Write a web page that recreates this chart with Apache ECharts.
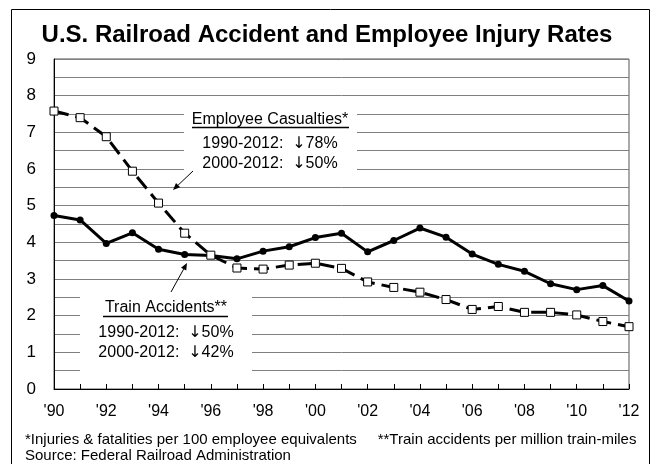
<!DOCTYPE html>
<html>
<head>
<meta charset="utf-8">
<script src="https://cdn.jsdelivr.net/npm/echarts@6/dist/echarts.min.js"></script>
<style>
  html, body { margin: 0; padding: 0; background: #fff; }
  #chart { width: 654px; height: 464px; }
</style>
</head>
<body>
<div id="chart"></div>
<script>
// year labels, 1990-2012
const years = ["'90", "'91", "'92", "'93", "'94", "'95", "'96", "'97", "'98", "'99", "'00", "'01",
  "'02", "'03", "'04", "'05", "'06", "'07", "'08", "'09", "'10", "'11", "'12"];
// injuries & fatalities per 100 employee equivalents
const employeeCasualties = [7.58, 7.40, 6.88, 5.94, 5.07, 4.25, 3.65, 3.30, 3.27, 3.38, 3.43, 3.29,
  2.92, 2.77, 2.64, 2.44, 2.17, 2.25, 2.09, 2.09, 2.02, 1.84, 1.70];
// train accidents per million train-miles
const trainAccidents = [4.73, 4.61, 3.97, 4.26, 3.81, 3.67, 3.64, 3.55, 3.76, 3.88, 4.13, 4.25,
  3.74, 4.05, 4.39, 4.14, 3.68, 3.40, 3.21, 2.87, 2.71, 2.82, 2.40];

const font = "Liberation Sans, Arial, sans-serif";
const chart = echarts.init(document.getElementById("chart"));

function arrow(x1, y1, x2, y2) {
  // thin line with a small filled head at (x2, y2)
  const a = Math.atan2(y2 - y1, x2 - x1);
  const len = 7, w = 3;
  const bx = x2 - len * Math.cos(a), by = y2 - len * Math.sin(a);
  return [
    { type: "line", z: 5, shape: { x1: x1, y1: y1, x2: bx, y2: by }, style: { stroke: "#000", lineWidth: 1 } },
    { type: "polygon", z: 5, shape: { points: [[x2, y2],
        [bx + w * Math.sin(a), by - w * Math.cos(a)],
        [bx - w * Math.sin(a), by + w * Math.cos(a)]] }, style: { fill: "#000" } }
  ];
}

function label(x, y, text, size, align) {
  return { type: "text", z: 5, x: x, y: y,
    style: { text: text, font: size + "px " + font, fill: "#000", align: align || "center", verticalAlign: "middle" } };
}

// "1990-2012:  ↓78%" with the arrow drawn from DejaVu (bigger glyph)
function change(x, y, period, pct) {
  return { type: "text", z: 5, x: x, y: y,
    style: {
      text: "{a|" + period + ":  }{b|\u2193}{a|" + pct + "}",
      align: "center", verticalAlign: "middle",
      rich: {
        a: { fontFamily: font, fontSize: 16, color: "#000" },
        b: { fontFamily: "DejaVu Sans", fontSize: 16, color: "#000" }
      }
    } };
}

const option = {
  animation: false,
  backgroundColor: "#fff",
  title: {
    text: "U.S. Railroad Accident and Employee Injury Rates",
    left: "center",
    top: 18,
    textStyle: { fontFamily: font, fontSize: 24, fontWeight: "bold", color: "#000" }
  },
  grid: { left: 54, right: 25, top: 59, bottom: 75, show: true, borderColor: "#555", borderWidth: 1 },
  xAxis: {
    type: "category",
    data: years,
    boundaryGap: false,
    axisLine: { lineStyle: { color: "#000", width: 1 } },
    axisTick: { inside: true, length: 5, interval: 0, lineStyle: { color: "#000" } },
    axisLabel: { interval: 1, margin: 15, fontFamily: font, fontSize: 16, color: "#000" },
    splitLine: { show: false }
  },
  yAxis: {
    type: "value",
    min: 0,
    max: 9,
    interval: 0.5,
    axisLine: { show: true, lineStyle: { color: "#000", width: 1 } },
    axisTick: { show: false },
    axisLabel: {
      margin: 18, fontFamily: font, fontSize: 17, color: "#000",
      formatter: function (v) { return Number.isInteger(v) ? String(v) : ""; }
    },
    splitLine: { lineStyle: { color: "#7f7f7f", width: 1 } }
  },
  series: [
    {
      name: "Employee Casualties",
      type: "line",
      data: employeeCasualties,
      symbol: "rect",
      symbolSize: 8,
      z: 4,
      lineStyle: { color: "#000", width: 3, type: [15, 7] },
      itemStyle: { color: "#fff", borderColor: "#000", borderWidth: 1 }
    },
    {
      name: "Train Accidents",
      type: "line",
      data: trainAccidents,
      symbol: "circle",
      symbolSize: 7,
      z: 3,
      lineStyle: { color: "#000", width: 3 },
      itemStyle: { color: "#000" }
    }
  ],
  graphic: [
    // outer frame
    { type: "rect", z: 0, shape: { x: 11.5, y: 9.5, width: 638, height: 470 }, style: { fill: "none", stroke: "#000", lineWidth: 1 } },
    // annotation boxes (white, hide gridlines)
    { type: "rect", z: 1, shape: { x: 184, y: 102, width: 173, height: 80 }, style: { fill: "#fff" } },
    { type: "rect", z: 1, shape: { x: 80, y: 286, width: 172, height: 92 }, style: { fill: "#fff" } },
    label(270, 120, "Employee Casualties*", 16),
    { type: "line", z: 5, shape: { x1: 192, y1: 127.5, x2: 349, y2: 127.5 }, style: { stroke: "#000", lineWidth: 1.5 } },
    change(270, 144, "1990-2012", "78%"),
    change(270, 164, "2000-2012", "50%"),
    label(166, 308, "Train Accidents**", 16),
    { type: "line", z: 5, shape: { x1: 103, y1: 316.5, x2: 228, y2: 316.5 }, style: { stroke: "#000", lineWidth: 1.5 } },
    change(166, 333, "1990-2012", "50%"),
    change(166, 353, "2000-2012", "42%"),
    ...arrow(193, 171, 173, 190),
    ...arrow(171, 292, 187, 263),
    // footnotes
    label(25, 440, "*Injuries & fatalities per 100 employee equivalents     **Train accidents per million train-miles", 15, "left"),
    label(25, 456, "Source: Federal Railroad Administration", 15, "left")
  ]
};
chart.setOption(option);
</script>
</body>
</html>
